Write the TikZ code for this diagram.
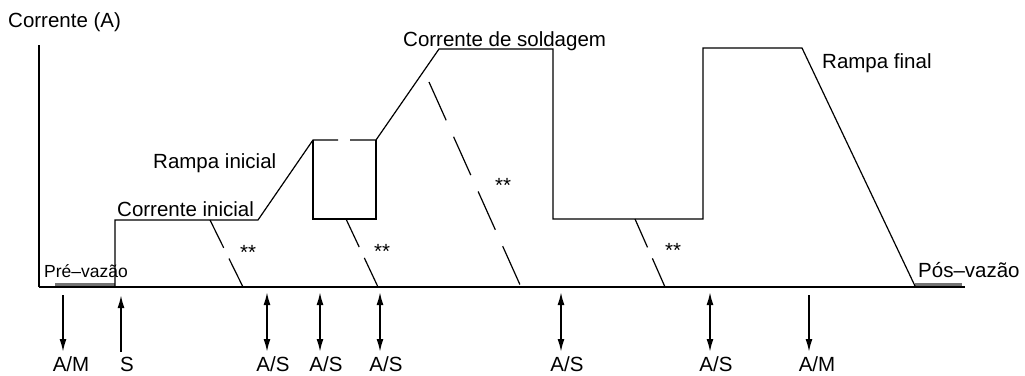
\documentclass[tikz,border=0pt]{standalone}
\usepackage{fontspec}
\setmainfont{Liberation Sans}
\usetikzlibrary{arrows.meta}

\begin{document}
\begin{tikzpicture}[
		x=1pt, y=-1pt,
		label text/.style={font=\fontsize{20.5}{24}\selectfont, inner sep=0pt, anchor=base west},
		tag text/.style={font=\fontsize{20.5}{24}\selectfont, inner sep=0pt, anchor=base},
		curve line/.style={black, line width=1.2pt, line join=miter},
		cut line/.style={black, line width=1.2pt, dash pattern=on 31pt off 12pt},
		long cut line/.style={black, line width=1.2pt, dash pattern=on 42pt off 18pt},
		gas line/.style={black!55, line width=2.5pt},
		event arrow/.style={line width=1.8pt, -{Latex[length=13pt,width=7pt]}},
		both arrow/.style={line width=1.8pt, {Latex[length=13pt,width=7pt]}-{Latex[length=13pt,width=7pt]}}
		]
		
		\useasboundingbox (0,0) rectangle (1025,375);
		
		% ---------------------------------------------------------
		% Axes and gas flow periods
		% ---------------------------------------------------------
		\coordinate (ytop) at (39,45);
		\coordinate (origin) at (39,287);
		\coordinate (xend) at (965,287);
		
		\draw[gas line] (55,284.5) -- (115,284.5);
		\draw[gas line] (915,284.5) -- (962,284.5);
		\draw[line width=1.6pt] (ytop) -- (origin);
		\draw[line width=2pt] (origin) -- (xend);
		
		\node[label text] (ylabel) at (8,27) {Corrente (A)};
		\node[label text, font=\fontsize{17.5}{20}\selectfont] (prevaz) at (44,277) {Pré–vazão};
		\node[label text] (posvaz) at (918,277) {Pós–vazão};
		
		% ---------------------------------------------------------
		% Current curve
		% ---------------------------------------------------------
		\draw[curve line] (115,287) -- (115,220) -- (258,220) -- (313,140) -- (338,140);
		\draw[curve line] (350,140) -- (376,140) -- (439,49) -- (553,49) -- (553,219)
		-- (703,219) -- (703,48) -- (802,48) -- (915,286);
		\draw[curve line] (313,140) -- (313,219) -- (376,219) -- (376,140);
		
		\node[label text] (corrini) at (117,216) {Corrente inicial};
		\node[label text] (rampini) at (153,168) {Rampa inicial};
		\node[label text] (corrsold) at (403,46) {Corrente de soldagem};
		\node[label text] (rampfin) at (822,68) {Rampa final};
		
		% Interrupted slopes
		\draw[cut line] (210,220) -- (243,287);
		\draw[cut line] (346,219) -- (378,287);
		\draw[long cut line] (429,82) -- (521,287);
		\draw[cut line] (635,219) -- (665,287);
		
		\foreach \x/\y [count=\i] in {248/259, 382/258, 503/192, 673/257} {
			\node[tag text] (star\i) at (\x,\y) {**};
		}
		
		% ---------------------------------------------------------
		% Torch trigger events
		% ---------------------------------------------------------
		\foreach \x [count=\i] in {267, 320, 380, 561, 710} {
			\coordinate (ast\i) at (\x,292);
			\coordinate (asb\i) at (\x,352);
			\draw[both arrow] (ast\i) -- (asb\i);
			\node[tag text] (as\i) at (\x+6,371) {A/S};
		}
		
		\foreach \x [count=\i] in {63, 809} {
			\coordinate (amt\i) at (\x,295);
			\coordinate (amb\i) at (\x,352);
			\draw[event arrow] (amt\i) -- (amb\i);
			\node[tag text] (am\i) at (\x+8,371) {A/M};
		}
		
		\coordinate (sb) at (121,352);
		\coordinate (st) at (121,295);
		\draw[event arrow] (sb) -- (st);
		\node[tag text] (s) at (127,371) {S};
		
	\end{tikzpicture}
\end{document}
